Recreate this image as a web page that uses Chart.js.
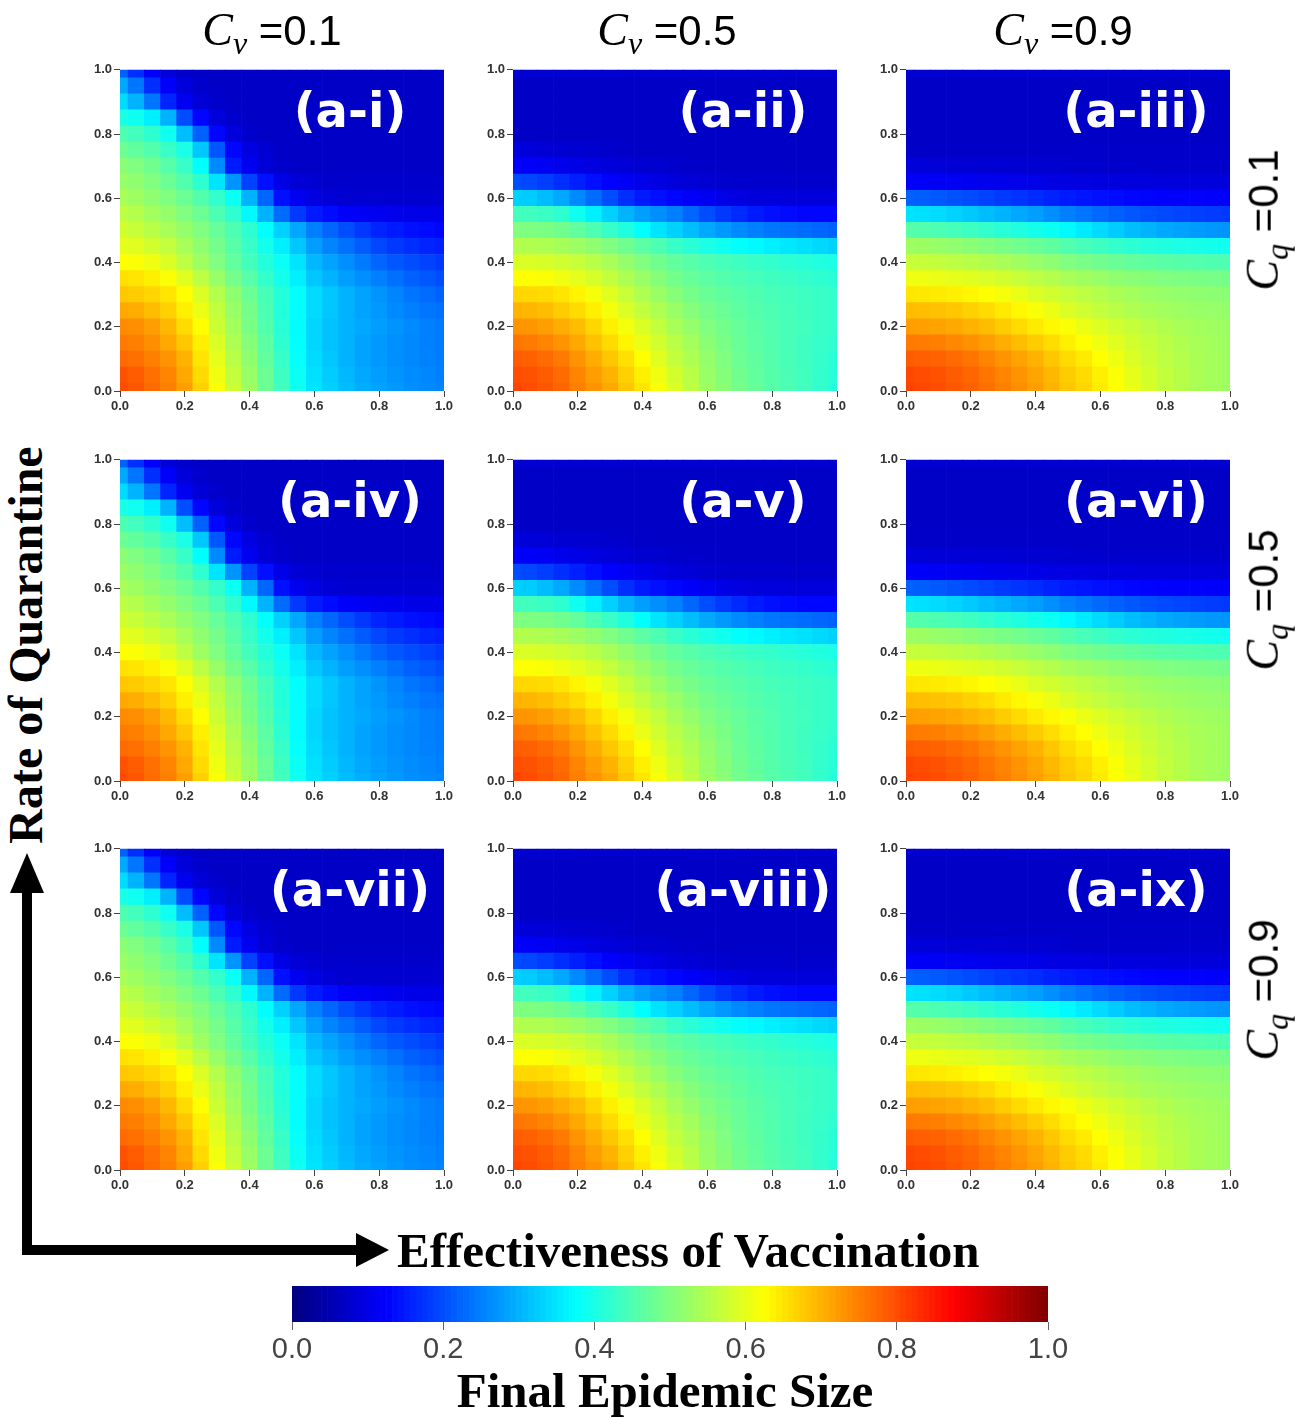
<!DOCTYPE html>
<html>
<head>
<meta charset="utf-8">
<script src="https://cdn.jsdelivr.net/npm/chart.js@4.4.1/dist/chart.umd.min.js"></script>
<style>
  body { margin: 0; background: #fff; width: 1309px; height: 1418px; position: relative; overflow: hidden; }
  .panel { position: absolute; }
  .tag { position: absolute; color: #fff; font: bold 48px "DejaVu Sans", sans-serif; transform: translate(-50%, -50%); white-space: nowrap; line-height: 1; z-index: 2; }
  .ttl { position: absolute; font: 42px "Liberation Sans", Arial, sans-serif; white-space: nowrap; line-height: 1; transform: translate(-50%, -50%); }
  .ttl .c { font-family: "Liberation Serif", serif; font-style: italic; font-size: 46px; }
  .ttl sub { font-family: "Liberation Serif", serif; font-style: italic; font-size: 32px; vertical-align: -0.3em; }
  .rot { transform: translate(-50%, -50%) rotate(-90deg); }
  .big { position: absolute; font: bold 49px "Liberation Serif", "Times New Roman", serif; white-space: nowrap; line-height: 1; }
  svg { position: absolute; left: 0; top: 0; }
</style>
</head>
<body>
<svg width="1309" height="1418">
  <rect x="22" y="890" width="10" height="365" fill="#000"/>
  <rect x="22" y="1245" width="336" height="10" fill="#000"/>
  <polygon points="10,893 44,893 27,853" fill="#000"/>
  <polygon points="356,1233 356,1267 389,1250" fill="#000"/>
</svg>
<div class="big rot" style="left:26px;top:645px;font-size:48px">Rate of Quarantine</div>
<div class="big" style="left:397px;top:1250px;transform:translateY(-50%)">Effectiveness of Vaccination</div>
<div class="big" style="left:665px;top:1390px;transform:translate(-50%,-50%)">Final Epidemic Size</div>

<script>
// grid of the heat maps
const xVals = [0, 0.05, 0.1, 0.15, 0.2, 0.25, 0.3, 0.35, 0.4, 0.45, 0.5, 0.55, 0.6, 0.65, 0.7, 0.75, 0.8, 0.85, 0.9, 0.95, 1];
const yVals = [0, 0.05, 0.1, 0.15, 0.2, 0.25, 0.3, 0.35, 0.4, 0.45, 0.5, 0.55, 0.6, 0.65, 0.7, 0.75, 0.8, 0.85, 0.9, 0.95, 1];

const cvLabels = ['0.1', '0.5', '0.9'];
const cqLabels = ['0.1', '0.5', '0.9'];
const panelTags = [
  ['(a-i)', '(a-ii)', '(a-iii)'],
  ['(a-iv)', '(a-v)', '(a-vi)'],
  ['(a-vii)', '(a-viii)', '(a-ix)']
];
const axisTicks = [0, 0.2, 0.4, 0.6, 0.8, 1.0];
const colorbarTicks = [0, 0.2, 0.4, 0.6, 0.8, 1.0];

// final epidemic size, one row per yVals entry (bottom row first), one value per xVals entry
// the three Cq rows of the figure look the same, so each Cv column uses one grid
const sizeCv01 = [
  [.80,.79,.77,.75,.72,.67,.62,.575,.53,.48,.44,.39,.35,.33,.31,.295,.285,.275,.265,.26,.255],
  [.795,.785,.765,.745,.71,.66,.61,.565,.525,.48,.435,.385,.345,.325,.305,.29,.28,.27,.262,.256,.25],
  [.77,.765,.75,.73,.70,.65,.60,.555,.515,.47,.43,.38,.34,.32,.30,.285,.275,.265,.258,.252,.248],
  [.755,.75,.735,.71,.68,.64,.59,.545,.505,.465,.42,.375,.335,.315,.30,.285,.275,.265,.258,.25,.245],
  [.74,.735,.72,.695,.66,.625,.575,.535,.495,.455,.415,.375,.335,.315,.30,.29,.28,.27,.26,.25,.245],
  [.71,.705,.69,.67,.64,.605,.565,.525,.49,.45,.41,.375,.34,.32,.30,.285,.275,.26,.25,.24,.235],
  [.68,.675,.665,.65,.625,.59,.55,.515,.48,.445,.41,.375,.34,.32,.30,.285,.27,.255,.24,.23,.22],
  [.655,.65,.64,.62,.595,.56,.525,.49,.46,.425,.395,.36,.32,.30,.28,.265,.25,.235,.22,.21,.20],
  [.625,.62,.61,.59,.56,.53,.50,.47,.44,.41,.385,.35,.305,.285,.265,.245,.225,.21,.20,.19,.18],
  [.60,.595,.58,.565,.54,.515,.49,.46,.43,.395,.36,.32,.28,.255,.235,.215,.195,.18,.17,.16,.155],
  [.58,.57,.555,.54,.52,.50,.475,.45,.42,.375,.33,.29,.25,.225,.20,.18,.16,.15,.14,.135,.13],
  [.56,.55,.535,.52,.50,.48,.45,.42,.37,.30,.23,.18,.15,.135,.12,.115,.11,.105,.10,.10,.10],
  [.54,.53,.515,.50,.48,.455,.425,.385,.30,.225,.14,.11,.095,.085,.08,.08,.08,.08,.08,.08,.08],
  [.525,.515,.50,.48,.455,.42,.35,.27,.19,.14,.10,.085,.08,.075,.075,.075,.075,.075,.075,.075,.075],
  [.51,.50,.485,.46,.43,.375,.26,.15,.11,.085,.075,.07,.07,.07,.07,.07,.07,.07,.07,.07,.07],
  [.48,.47,.455,.43,.40,.32,.21,.13,.095,.08,.072,.07,.07,.07,.07,.07,.07,.07,.07,.07,.07],
  [.45,.44,.42,.39,.31,.22,.13,.09,.075,.07,.07,.07,.07,.07,.07,.07,.07,.07,.07,.07,.07],
  [.40,.39,.36,.30,.20,.13,.09,.075,.07,.07,.07,.07,.07,.07,.07,.07,.07,.07,.07,.07,.07],
  [.34,.30,.24,.16,.11,.085,.075,.07,.07,.07,.07,.07,.07,.07,.07,.07,.07,.07,.07,.07,.07],
  [.29,.24,.17,.12,.09,.075,.07,.07,.07,.07,.07,.07,.07,.07,.07,.07,.07,.07,.07,.07,.07],
  [.22,.17,.12,.09,.075,.07,.07,.07,.07,.07,.07,.07,.07,.07,.07,.07,.07,.07,.07,.07,.07]
];

const sizeCv05 = [
  [.81,.80,.79,.775,.75,.73,.71,.68,.65,.62,.59,.56,.53,.51,.49,.475,.46,.45,.44,.425,.41],
  [.80,.795,.785,.77,.745,.72,.70,.67,.64,.61,.58,.555,.525,.505,.485,.47,.458,.448,.438,.425,.412],
  [.785,.78,.77,.755,.73,.705,.68,.655,.625,.595,.565,.545,.52,.50,.48,.468,.456,.446,.437,.426,.415],
  [.76,.755,.745,.73,.71,.685,.66,.635,.605,.58,.555,.535,.51,.495,.478,.465,.455,.445,.437,.428,.42],
  [.73,.728,.72,.705,.69,.665,.64,.615,.59,.565,.54,.52,.50,.488,.475,.463,.453,.445,.438,.43,.425],
  [.70,.697,.69,.675,.66,.64,.615,.59,.565,.545,.525,.505,.49,.478,.467,.457,.45,.443,.437,.43,.425],
  [.665,.663,.66,.65,.635,.615,.595,.57,.545,.525,.505,.49,.478,.468,.46,.452,.445,.44,.435,.43,.425],
  [.625,.623,.62,.61,.60,.585,.565,.545,.525,.505,.488,.475,.465,.456,.45,.443,.437,.432,.426,.42,.415],
  [.59,.588,.585,.578,.57,.555,.54,.52,.50,.485,.47,.46,.45,.443,.437,.43,.425,.418,.412,.406,.40],
  [.55,.548,.545,.538,.528,.515,.50,.485,.465,.45,.43,.415,.40,.39,.378,.37,.36,.352,.345,.338,.33],
  [.50,.498,.495,.485,.47,.45,.43,.405,.375,.35,.33,.31,.29,.275,.26,.25,.24,.235,.23,.225,.22],
  [.44,.438,.432,.42,.39,.36,.33,.30,.28,.265,.25,.225,.20,.18,.165,.15,.14,.135,.13,.13,.13],
  [.33,.325,.31,.29,.26,.23,.20,.17,.15,.14,.13,.12,.11,.10,.095,.09,.09,.09,.09,.09,.09],
  [.20,.195,.185,.17,.155,.14,.125,.115,.105,.098,.09,.085,.08,.078,.076,.075,.075,.075,.075,.075,.075],
  [.12,.118,.112,.105,.10,.095,.09,.085,.08,.078,.075,.073,.072,.07,.07,.07,.07,.07,.07,.07,.07],
  [.09,.088,.085,.082,.08,.078,.075,.073,.072,.07,.07,.07,.07,.07,.07,.07,.07,.07,.07,.07,.07],
  [.07,.07,.07,.07,.07,.07,.07,.07,.07,.07,.07,.07,.07,.07,.07,.07,.07,.07,.07,.07,.07],
  [.07,.07,.07,.07,.07,.07,.07,.07,.07,.07,.07,.07,.07,.07,.07,.07,.07,.07,.07,.07,.07],
  [.07,.07,.07,.07,.07,.07,.07,.07,.07,.07,.07,.07,.07,.07,.07,.07,.07,.07,.07,.07,.07],
  [.07,.07,.07,.07,.07,.07,.07,.07,.07,.07,.07,.07,.07,.07,.07,.07,.07,.07,.07,.07,.07],
  [.08,.08,.08,.08,.08,.08,.08,.08,.08,.08,.08,.08,.08,.08,.08,.08,.08,.08,.08,.08,.08]
];

const sizeCv09 = [
  [.81,.805,.80,.79,.78,.765,.75,.735,.72,.70,.68,.665,.645,.625,.605,.585,.565,.553,.542,.535,.53],
  [.805,.80,.795,.785,.775,.76,.745,.73,.713,.695,.675,.66,.64,.62,.60,.582,.565,.553,.543,.536,.53],
  [.785,.782,.778,.77,.76,.745,.73,.715,.70,.68,.66,.645,.625,.608,.59,.575,.56,.55,.542,.536,.53],
  [.755,.753,.75,.742,.733,.72,.705,.69,.675,.658,.64,.625,.61,.595,.58,.568,.556,.547,.54,.535,.53],
  [.72,.718,.715,.71,.70,.69,.675,.66,.645,.632,.62,.605,.592,.58,.568,.557,.548,.54,.535,.531,.528],
  [.69,.688,.685,.68,.67,.66,.645,.632,.618,.605,.59,.578,.566,.556,.547,.54,.534,.529,.525,.522,.52],
  [.65,.648,.645,.64,.633,.625,.615,.603,.59,.58,.57,.56,.55,.542,.535,.528,.523,.519,.515,.512,.51],
  [.61,.608,.605,.60,.595,.588,.58,.57,.56,.55,.54,.532,.524,.516,.51,.505,.50,.497,.494,.492,.49],
  [.57,.568,.565,.56,.555,.548,.54,.532,.522,.512,.50,.492,.485,.478,.472,.467,.462,.458,.455,.452,.45],
  [.53,.527,.523,.517,.51,.502,.495,.487,.478,.468,.455,.445,.435,.425,.417,.41,.405,.40,.397,.393,.39],
  [.46,.455,.45,.443,.435,.425,.415,.405,.395,.385,.37,.355,.34,.325,.31,.30,.29,.283,.277,.272,.27],
  [.35,.345,.34,.332,.322,.31,.30,.29,.28,.265,.25,.24,.228,.218,.21,.203,.197,.192,.187,.183,.18],
  [.22,.217,.212,.205,.198,.19,.182,.175,.167,.158,.15,.145,.14,.135,.13,.127,.125,.123,.122,.12,.12],
  [.12,.118,.115,.112,.11,.107,.105,.103,.10,.098,.097,.095,.094,.093,.092,.091,.09,.09,.09,.09,.09],
  [.09,.088,.086,.085,.083,.082,.081,.08,.079,.078,.077,.076,.075,.075,.075,.075,.075,.075,.075,.075,.075],
  [.072,.072,.072,.072,.072,.072,.072,.072,.072,.072,.072,.072,.072,.072,.072,.072,.072,.072,.072,.072,.072],
  [.07,.07,.07,.07,.07,.07,.07,.07,.07,.07,.07,.07,.07,.07,.07,.07,.07,.07,.07,.07,.07],
  [.07,.07,.07,.07,.07,.07,.07,.07,.07,.07,.07,.07,.07,.07,.07,.07,.07,.07,.07,.07,.07],
  [.07,.07,.07,.07,.07,.07,.07,.07,.07,.07,.07,.07,.07,.07,.07,.07,.07,.07,.07,.07,.07],
  [.07,.07,.07,.07,.07,.07,.07,.07,.07,.07,.07,.07,.07,.07,.07,.07,.07,.07,.07,.07,.07],
  [.08,.08,.08,.08,.08,.08,.08,.08,.08,.08,.08,.08,.08,.08,.08,.08,.08,.08,.08,.08,.08]
];

const gridsByCv = [sizeCv01, sizeCv05, sizeCv09];

// layout of the 3x3 panels (plot area corners)
const plotLeft = [120, 513, 906];
const plotTop = [68, 458, 847];
const PLOT_W = 324, PLOT_H = 323;
const AXIS_W = 40, AXIS_H = 26, PAD_TOP = 8, PAD_RIGHT = 16;

// jet colormap
function jet(v) {
  const c = t => Math.round(255 * Math.max(0, Math.min(1, t)));
  const r = c(1.5 - Math.abs(4 * v - 3));
  const g = c(1.5 - Math.abs(4 * v - 2));
  const b = c(1.5 - Math.abs(4 * v - 1));
  return `rgb(${r},${g},${b})`;
}

const tickFont = { family: 'Liberation Sans', size: 13, weight: 'bold' };

function heatDatasets(grid) {
  const dy = yVals[1] - yVals[0];
  return yVals.map((y, j) => ({
    data: xVals.map(x => ({ x: x, y: [y - dy / 2, y + dy / 2] })),
    backgroundColor: grid[j].map(jet),
    borderWidth: 0,
    barPercentage: 1,
    categoryPercentage: 1,
    grouped: false,
    clip: 0
  }));
}

function axis(extra) {
  return Object.assign({
    type: 'linear',
    min: 0,
    max: 1,
    offset: false,
    border: { display: false },
    grid: { offset: false, drawOnChartArea: false, drawTicks: true, tickLength: 6, color: '#444' },
    ticks: { font: tickFont, color: '#333', padding: 2, maxRotation: 0, autoSkip: false, callback: v => v.toFixed(1) },
    afterBuildTicks: s => { s.ticks = axisTicks.map(v => ({ value: v })); }
  }, extra);
}

cqLabels.forEach((cq, r) => {
  cvLabels.forEach((cv, c) => {
    const canvas = document.createElement('canvas');
    canvas.className = 'panel';
    canvas.width = AXIS_W + PLOT_W + PAD_RIGHT;
    canvas.height = PAD_TOP + PLOT_H + AXIS_H;
    canvas.style.left = (plotLeft[c] - AXIS_W) + 'px';
    canvas.style.top = (plotTop[r] - PAD_TOP) + 'px';
    document.body.appendChild(canvas);

    new Chart(canvas, {
      type: 'bar',
      data: { datasets: heatDatasets(gridsByCv[c]) },
      options: {
        responsive: false,
        animation: false,
        events: [],
        layout: { padding: { top: PAD_TOP, right: PAD_RIGHT, left: 0, bottom: 0 } },
        plugins: { legend: { display: false }, tooltip: { enabled: false } },
        scales: {
          x: axis({ afterFit: s => { s.height = AXIS_H; } }),
          y: axis({ afterFit: s => { s.width = AXIS_W; } })
        }
      }
    });

    const tag = document.createElement('div');
    tag.className = 'tag';
    tag.textContent = panelTags[r][c];
    tag.style.left = (plotLeft[c] + 230) + 'px';
    tag.style.top = (plotTop[r] + 42) + 'px';
    document.body.appendChild(tag);
  });
});

// column titles (Cv) and row titles (Cq)
const titleX = [272, 667, 1063];
cvLabels.forEach((cv, c) => {
  const d = document.createElement('div');
  d.className = 'ttl';
  d.innerHTML = '<span class="c">C</span><sub>v</sub> =' + cv;
  d.style.left = titleX[c] + 'px';
  d.style.top = '33px';
  document.body.appendChild(d);
});
const rowY = [220, 600, 990];
cqLabels.forEach((cq, r) => {
  const d = document.createElement('div');
  d.className = 'ttl rot';
  d.innerHTML = '<span class="c">C</span><sub>q</sub> =' + cq;
  d.style.left = '1266px';
  d.style.top = rowY[r] + 'px';
  document.body.appendChild(d);
});

// colour bar
const cbLevels = [];
for (let i = 0; i < 128; i++) cbLevels.push((i + 0.5) / 128);
const cb = document.createElement('canvas');
cb.className = 'panel';
cb.width = 30 + 756 + 30;
cb.height = 2 + 36 + 60;
cb.style.left = (292 - 30) + 'px';
cb.style.top = (1286 - 2) + 'px';
document.body.appendChild(cb);
new Chart(cb, {
  type: 'bar',
  data: {
    datasets: [{
      data: cbLevels.map(v => ({ x: v, y: [0, 1] })),
      backgroundColor: cbLevels.map(jet),
      borderWidth: 0,
      barPercentage: 1,
      categoryPercentage: 1,
      grouped: false,
      clip: 0
    }]
  },
  options: {
    responsive: false,
    animation: false,
    events: [],
    layout: { padding: { top: 2, right: 30, left: 30, bottom: 0 } },
    plugins: { legend: { display: false }, tooltip: { enabled: false } },
    scales: {
      x: {
        type: 'linear', min: 0, max: 1, offset: false,
        border: { display: false },
        grid: { offset: false, drawOnChartArea: false, tickLength: 8, color: '#666' },
        ticks: { font: { family: 'Liberation Sans', size: 29 }, color: '#444', padding: 3, maxRotation: 0, autoSkip: false, callback: v => v.toFixed(1) },
        afterBuildTicks: s => { s.ticks = colorbarTicks.map(v => ({ value: v })); },
        afterFit: s => { s.height = 60; }
      },
      y: { display: false, min: 0, max: 1 }
    }
  }
});
</script>
</body>
</html>
